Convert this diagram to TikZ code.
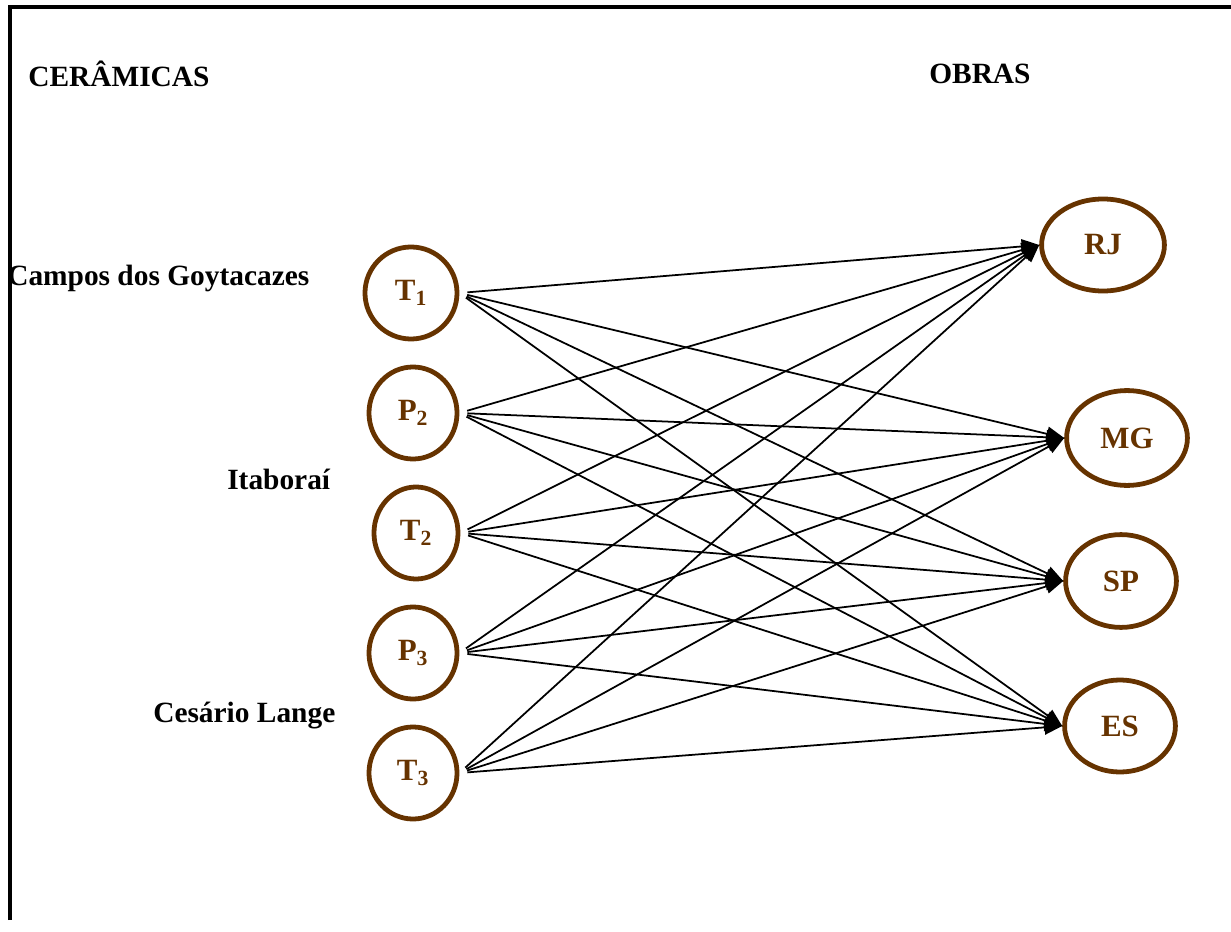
\documentclass[tikz,border=0pt]{standalone}
\usepackage{fontspec}
\setmainfont{Liberation Serif}
\usetikzlibrary{arrows.meta,shapes.geometric}
\definecolor{marrom}{RGB}{102,51,0}
\tikzset{
  cer/.style={ellipse, draw=marrom, line width=3.4pt, text=marrom,
    font=\fontsize{22}{26}\selectfont\bfseries,
    minimum width=2.2cm, minimum height=2.3cm, inner sep=0pt},
  obra/.style={cer, minimum width=2.77cm, minimum height=2.32cm},
  rotulo/.style={font=\fontsize{20.9}{24}\selectfont\bfseries, inner sep=0pt, anchor=west},
  seta/.style={-{Triangle[length=4.4mm,width=3.6mm]}, line width=1.25pt, shorten <=2mm}
}
\begin{document}
\begin{tikzpicture}[x=0.025cm, y=-0.025cm]
    \useasboundingbox (0,0) rectangle (1231,932);
    \draw[line width=2.2pt] (10,920) -- (10,7) -- (1231,7);
    % titulos
    \node[rotulo] (cer) at (28,74) {CERÂMICAS};
    \node[rotulo] (obr) at (929,74) {OBRAS};
    \node[rotulo] (cam) at (7,278) {Campos dos Goytacazes};
    \node[rotulo] (ita) at (227,479) {Itaboraí};
    \node[rotulo] (ces) at (153,716) {Cesário Lange};
    % ceramicas
    \node[cer, minimum width=2.3cm] (T1) at (411,293) {T\textsubscript{1}};
    \node[cer] (P2) at (413,413) {P\textsubscript{2}};
    \node[cer, minimum width=2.1cm] (T2) at (416,533) {T\textsubscript{2}};
    \node[cer] (P3) at (413,653) {P\textsubscript{3}};
    \node[cer] (T3) at (413,773) {T\textsubscript{3}};
    % obras
    \node[obra, minimum width=3.07cm, minimum height=2.3cm] (RJ) at (1103,245) {RJ};
    \node[obra, minimum width=3.02cm, minimum height=2.37cm] (MG) at (1127,438) {MG};
    \node[obra] (SP) at (1121,581) {SP};
    \node[obra, minimum height=2.3cm] (ES) at (1120,726) {ES};
    \foreach \c in {T1,P2,T2,P3,T3}
      \foreach \o in {RJ,MG,SP,ES}
        \draw[seta] (\c.east) -- (\o.west);
\end{tikzpicture}
\end{document}
